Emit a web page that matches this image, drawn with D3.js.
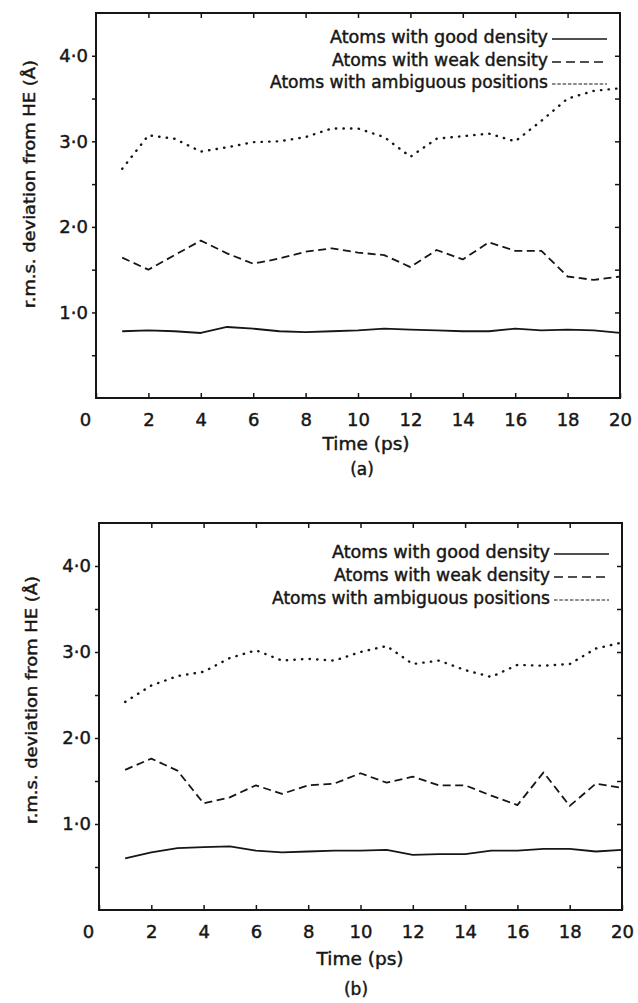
<!DOCTYPE html>
<html>
<head>
<meta charset="utf-8">
<script src="https://cdn.jsdelivr.net/npm/d3@7"></script>
<style>
  html, body { margin: 0; padding: 0; background: #fff; }
  svg { display: block; }
  text { font-family: "DejaVu Sans", "Liberation Sans", sans-serif; fill: #161616; stroke: #161616; stroke-width: 0.45px; }
</style>
</head>
<body>
<svg id="chart" width="638" height="1003"></svg>
<script>
// ---------------- data ----------------
const timePs = [1,2,3,4,5,6,7,8,9,10,11,12,13,14,15,16,17,18,19,20];
const xTickValues = [0,2,4,6,8,10,12,14,16,18,20];
const yTickValues = [1,2,3,4];
const yMinorTicks = [0.5,1,1.5,2,2.5,3,3.5,4];
const seriesNames = ["Atoms with good density", "Atoms with weak density", "Atoms with ambiguous positions"];
const xTitle = "Time (ps)";
const yTitle = "r.m.s. deviation from HE (Å)";
const panelLabels = ["(a)", "(b)"];

// panel (a)
const goodA = [0.78,0.79,0.78,0.76,0.83,0.81,0.78,0.77,0.78,0.79,0.81,0.80,0.79,0.78,0.78,0.81,0.79,0.80,0.79,0.76];
const weakA = [1.64,1.50,1.67,1.84,1.69,1.57,1.63,1.71,1.75,1.70,1.67,1.53,1.73,1.62,1.82,1.72,1.72,1.42,1.38,1.42];
const ambA  = [2.68,3.07,3.03,2.88,2.93,2.99,3.00,3.05,3.15,3.15,3.05,2.82,3.03,3.06,3.09,3.00,3.24,3.50,3.59,3.62];
// panel (b)
const goodB = [0.60,0.67,0.72,0.73,0.74,0.69,0.67,0.68,0.69,0.69,0.70,0.64,0.65,0.65,0.69,0.69,0.71,0.71,0.68,0.70];
const weakB = [1.63,1.76,1.62,1.24,1.31,1.45,1.35,1.45,1.47,1.59,1.48,1.55,1.45,1.45,1.33,1.22,1.60,1.21,1.47,1.42];
const ambB  = [2.42,2.61,2.72,2.77,2.93,3.02,2.90,2.92,2.90,3.00,3.07,2.86,2.90,2.79,2.71,2.85,2.84,2.86,3.04,3.11];

// ---------------- drawing ----------------
const svg = d3.select("#chart");
const ink = "#161616";
const styles = [
  { dash: null,  width: 1.8, cap: "butt",  legDash: null,  legWidth: 1.6 },
  { dash: "8,4.5", width: 1.8, cap: "butt", legDash: "9,5", legWidth: 1.6 },
  { dash: "0.4,7.2", width: 2.4, cap: "round", legDash: "3.5,1.8", legWidth: 1.2 }
];
const legendWidths = [218, 216, 278];

function fmtY(d) { return d.toFixed(1).replace(".", "\u00B7"); }

function drawPanel(cfg, data, label) {
  const { left, right, top, bottom } = cfg;
  const x = d3.scaleLinear().domain([0, 20]).range([left, right]);
  const y = d3.scaleLinear().domain([0, 4.5]).range([bottom, top]);
  const g = svg.append("g");

  // frame
  g.append("rect").attr("x", left).attr("y", top)
    .attr("width", right - left).attr("height", bottom - top)
    .attr("fill", "none").attr("stroke", ink).attr("stroke-width", 2);

  // bottom axis with inward ticks
  const xb = g.append("g").attr("transform", `translate(0,${bottom})`)
    .call(d3.axisBottom(x).tickValues(xTickValues).tickSizeInner(-5).tickSizeOuter(0).tickPadding(13)
      .tickFormat(d3.format("d")));
  xb.select(".domain").remove();
  xb.selectAll("line").attr("stroke", ink).attr("stroke-width", 1.5);
  xb.selectAll("text").style("font-size", "18px").attr("fill", ink).attr("font-family", "DejaVu Sans")
    .attr("dy", "0.85em");
  xb.selectAll(".tick").filter(d => d === 0).select("text").attr("dx", -11);

  // top axis ticks inward
  const xt = g.append("g").attr("transform", `translate(0,${top})`)
    .call(d3.axisTop(x).tickValues(xTickValues.filter(d => d > 0 && d < 20)).tickSizeInner(-5).tickSizeOuter(0).tickFormat(""));
  xt.select(".domain").remove();
  xt.selectAll("line").attr("stroke", ink).attr("stroke-width", 1.5);

  // right axis ticks inward
  const yr = g.append("g").attr("transform", `translate(${right},0)`)
    .call(d3.axisRight(y).tickValues(yMinorTicks).tickSizeInner(-5).tickSizeOuter(0).tickFormat(""));
  yr.select(".domain").remove();
  yr.selectAll("line").attr("stroke", ink).attr("stroke-width", 1.5);

  // left axis: minor ticks outward, labels on integers
  const yl = g.append("g").attr("transform", `translate(${left},0)`)
    .call(d3.axisLeft(y).tickValues(yMinorTicks).tickSizeInner(4).tickSizeOuter(0).tickPadding(4)
      .tickFormat(d => yTickValues.includes(d) ? fmtY(d) : ""));
  yl.select(".domain").remove();
  yl.selectAll("line").attr("stroke", ink).attr("stroke-width", 1.5);
  yl.selectAll("text").style("font-size", "18px").attr("fill", ink).attr("font-family", "DejaVu Sans");

  // lines
  data.forEach((vals, i) => {
    const line = d3.line().x((d, k) => x(timePs[k])).y(d => y(d));
    g.append("path").datum(vals).attr("d", line)
      .attr("fill", "none").attr("stroke", ink)
      .attr("stroke-width", styles[i].width)
      .attr("stroke-dasharray", styles[i].dash)
      .attr("stroke-linejoin", "round")
      .attr("stroke-linecap", styles[i].cap);
  });

  // legend
  const legLineEnd = right - 13, legLineStart = legLineEnd - 55;
  seriesNames.forEach((name, i) => {
    const ly = cfg.legendY[i];
    g.append("text").attr("x", legLineStart - 4).attr("y", ly)
      .attr("text-anchor", "end").attr("dominant-baseline", "middle")
      .attr("textLength", legendWidths[i]).attr("lengthAdjust", "spacingAndGlyphs")
      .style("font-size", "17px").text(name);
    g.append("line").attr("x1", legLineStart).attr("x2", legLineEnd)
      .attr("y1", ly + 1).attr("y2", ly + 1)
      .attr("stroke", ink).attr("stroke-width", styles[i].legWidth)
      .attr("stroke-dasharray", styles[i].legDash);
  });

  // titles
  g.append("text").attr("x", cfg.xTitleX).attr("y", cfg.xTitleY)
    .attr("text-anchor", "middle").attr("dominant-baseline", "middle")
    .attr("textLength", 87).attr("lengthAdjust", "spacingAndGlyphs")
    .style("font-size", "17px").text(xTitle);
  g.append("text").attr("x", cfg.xTitleX - 4).attr("y", cfg.labelY)
    .attr("text-anchor", "middle").attr("dominant-baseline", "middle")
    .style("font-size", "17px").text(label);
  g.append("text")
    .attr("transform", `translate(${cfg.yTitleX},${cfg.yTitleY}) rotate(-90)`)
    .attr("text-anchor", "middle").attr("dominant-baseline", "middle")
    .attr("textLength", 248).attr("lengthAdjust", "spacingAndGlyphs")
    .style("font-size", "16px").text(yTitle);
}

drawPanel({ left: 96, right: 620, top: 13, bottom: 398,
  legendY: [38, 61, 83], xTitleX: 366, xTitleY: 445, labelY: 470,
  yTitleX: 30, yTitleY: 184 }, [goodA, weakA, ambA], panelLabels[0]);

drawPanel({ left: 99, right: 622, top: 523, bottom: 910,
  legendY: [553, 576, 599], xTitleX: 360, xTitleY: 960, labelY: 990,
  yTitleX: 32, yTitleY: 700 }, [goodB, weakB, ambB], panelLabels[1]);
</script>
</body>
</html>
